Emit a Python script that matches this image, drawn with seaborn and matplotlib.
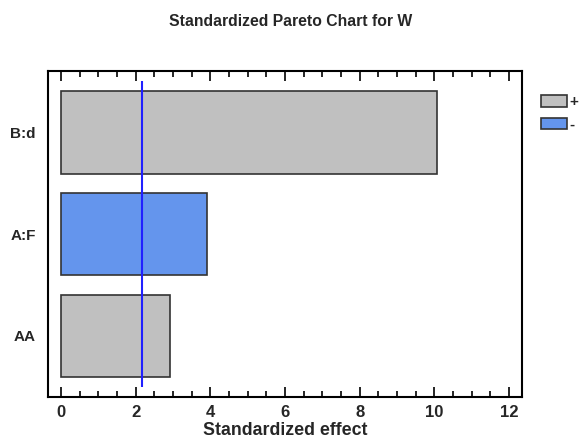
import matplotlib
matplotlib.use("Agg")
import matplotlib.pyplot as plt
import seaborn as sns
import pandas as pd
from matplotlib.patches import Patch
from matplotlib.ticker import MultipleLocator

effects = ["B:d", "A:F", "AA"]
values = [10.07, 3.91, 2.93]
signs = ["+", "-", "+"]
critical = 2.17
colors = {"+": "#c0c0c0", "-": "#6495ed"}

sns.set_style("white")
plt.rcParams['font.family'] = ['Liberation Sans', 'DejaVu Sans']

df = pd.DataFrame({"effect": effects, "value": values, "sign": signs})

fig = plt.figure(figsize=(5.82, 4.45), dpi=100)
ax = fig.add_axes([0.0825, 0.108, 0.8145, 0.732])
sns.barplot(data=df, x="value", y="effect", hue="sign", palette=colors,
            dodge=False, width=0.81, edgecolor="#333333", linewidth=1.2,
            saturation=1, orient="h", ax=ax, legend=False)
ax.vlines(critical, -0.5, 2.5, color="#2020ff", linewidth=1.5, zorder=5)

ax.set_xlim(-0.35, 12.35)
ax.set_ylim(2.6, -0.6)
ax.xaxis.set_major_locator(MultipleLocator(2))
ax.xaxis.set_minor_locator(MultipleLocator(0.5))
ax.tick_params(axis="x", which="both", direction="in", top=True, bottom=True,
               labelsize=12, pad=6, width=1.2, color="black")
ax.tick_params(axis="x", which="major", length=7)
ax.tick_params(axis="x", which="minor", length=4)
ax.tick_params(axis="y", length=0, labelsize=11, pad=9)
for lab in ax.get_xticklabels() + ax.get_yticklabels():
    lab.set_fontweight("bold")
for s in ax.spines.values():
    s.set_linewidth(1.5)
    s.set_color("black")
ax.set_xlabel("Standardized effect", fontsize=12.8, fontweight="bold", labelpad=1)
ax.set_ylabel("")
fig.suptitle("Standardized Pareto Chart for W", fontsize=11.3, fontweight="bold", y=0.968)

handles = [Patch(facecolor=colors[k], edgecolor="#333333", linewidth=1.2, label=k) for k in ["+", "-"]]
leg = fig.legend(handles=handles, loc="upper left", bbox_to_anchor=(0.929, 0.786),
                 frameon=False, borderpad=0, borderaxespad=0, handlelength=1.7,
                 handleheight=0.8, handletextpad=0.2, labelspacing=0.55,
                 prop={"weight": "bold", "size": 11})

fig.savefig("out.png", dpi=100)
